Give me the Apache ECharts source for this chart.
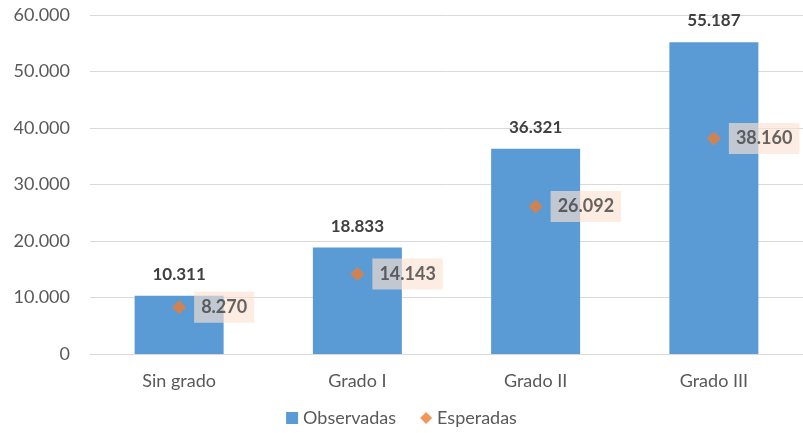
<!DOCTYPE html>
<html><head><meta charset="utf-8">
<script src="https://cdn.jsdelivr.net/npm/echarts@6/dist/echarts.min.js"></script>
<style>html,body{margin:0;padding:0;background:#fff}#c{width:803px;height:433px}</style>
</head><body><div id="c"></div>
<script>
const categories = ['Sin grado', 'Grado I', 'Grado II', 'Grado III'];
const observadas = [10311, 18833, 36321, 55187];
const esperadas = [8270, 14143, 26092, 38160];
const yTicks = [0, 10000, 20000, 30000, 40000, 50000, 60000];

const fmt = v => String(v).replace(/\B(?=(\d{3})+(?!\d))/g, '.');
const FONT = 'Lato, "Open Sans", sans-serif';
const chart = echarts.init(document.getElementById('c'));
chart.setOption({
  animation: false,
  textStyle: { fontFamily: FONT },
  grid: { left: 90, top: 15, width: 717, height: 339, containLabel: false },
  legend: {
    bottom: 1, left: 'center', itemGap: 24, itemWidth: 12, itemHeight: 12,
    textStyle: { fontSize: 18, color: '#595959', fontFamily: FONT },
    data: [{ name: 'Observadas', icon: 'rect' }, { name: 'Esperadas', icon: 'diamond' }]
  },
  xAxis: {
    type: 'category', data: categories,
    axisLine: { lineStyle: { color: '#d9d9d9' } },
    axisTick: { show: false },
    axisLabel: { fontSize: 18, color: '#595959', margin: 18, fontFamily: FONT }
  },
  yAxis: {
    type: 'value', min: yTicks[0], max: yTicks[yTicks.length - 1], interval: 10000,
    axisLine: { show: false }, axisTick: { show: false },
    splitLine: { lineStyle: { color: '#d9d9d9' } },
    axisLabel: { fontSize: 18, color: '#595959', margin: 20, formatter: v => fmt(v), fontFamily: FONT }
  },
  series: [
    {
      name: 'Observadas', type: 'bar', data: observadas, barWidth: 89,
      itemStyle: { color: '#5b9bd5' },
      label: { show: true, position: 'top', distance: 13, fontSize: 17, fontWeight: 'bold', color: '#404040', formatter: p => fmt(p.value), fontFamily: FONT }
    },
    {
      name: 'Esperadas', type: 'scatter', data: esperadas, symbol: 'diamond', symbolSize: 14,
      itemStyle: { color: '#ed7d31' },
      label: {
        show: true, position: 'right', distance: 8, fontSize: 18, fontWeight: 'bold', color: '#404040',
        backgroundColor: 'rgba(250,226,208,0.8)', padding: [7, 7, 6, 7],
        formatter: p => fmt(p.value), fontFamily: FONT
      }
    }
  ]
});
</script></body></html>
